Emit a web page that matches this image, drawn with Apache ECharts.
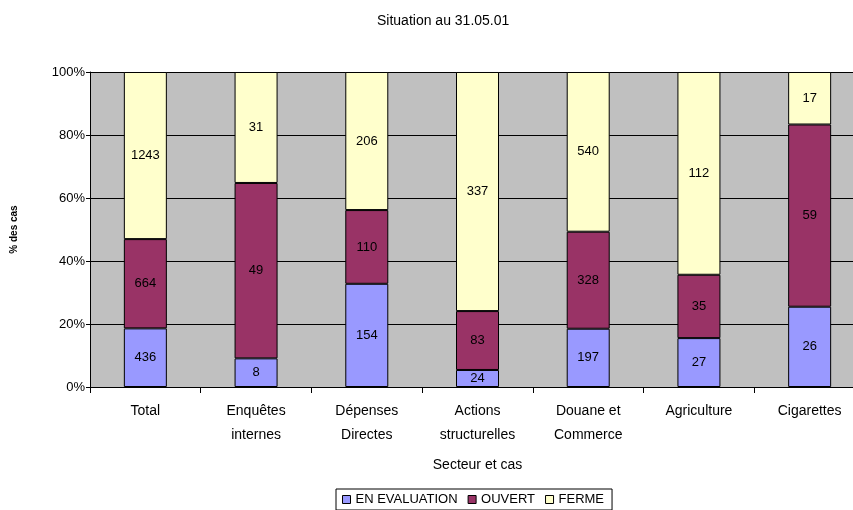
<!DOCTYPE html>
<html>
<head>
<meta charset="utf-8">
<script src="https://cdn.jsdelivr.net/npm/echarts@6/dist/echarts.min.js"></script>
<style>
  html, body { margin: 0; padding: 0; background: #fff; }
  #chart { width: 853px; height: 510px; }
</style>
</head>
<body>
<div id="chart"></div>
<script>
// Sectors (two-line labels) and case counts per status
var categories = ['Total', 'Enquêtes\ninternes', 'Dépenses\nDirectes', 'Actions\nstructurelles', 'Douane et\nCommerce', 'Agriculture', 'Cigarettes'];
var enEvaluation = [436, 8, 154, 24, 197, 27, 26];
var ouvert = [664, 49, 110, 83, 328, 35, 59];
var ferme = [1243, 31, 206, 337, 540, 112, 17];
var yTicks = [0, 20, 40, 60, 80, 100];

var totals = categories.map(function (_, i) { return enEvaluation[i] + ouvert[i] + ferme[i]; });
function share(arr) {
  return arr.map(function (v, i) { return { value: v / totals[i] * 100, raw: v }; });
}

var font = 'Liberation Sans, Arial, sans-serif';
var segLabel = {
  show: true,
  position: 'inside',
  color: '#000',
  fontFamily: font,
  fontSize: 13,
  formatter: function (p) { return p.data.raw; }
};

function series(name, arr, color) {
  return {
    name: name,
    type: 'bar',
    stack: 'all',
    barWidth: 43,
    data: share(arr),
    itemStyle: { color: color, borderColor: '#000', borderWidth: 1 },
    label: segLabel
  };
}

var chart = echarts.init(document.getElementById('chart'));
chart.setOption({
  animation: false,
  title: {
    text: 'Situation au 31.05.01',
    left: 372,
    top: 9,
    textStyle: { fontFamily: font, fontSize: 14, fontWeight: 'normal', color: '#000' }
  },
  grid: {
    left: 90, top: 72, width: 775, height: 315,
    outerBoundsMode: 'none',
    show: true, backgroundColor: '#C0C0C0', borderWidth: 0
  },
  legend: {
    bottom: 0,
    left: 336,
    padding: [4, 8, 4, 6],
    borderColor: '#000',
    borderWidth: 1,
    icon: 'rect',
    itemWidth: 8,
    itemHeight: 8,
    itemGap: 10,
    textStyle: { fontFamily: font, fontSize: 13, color: '#000' },
    data: [
      { name: 'EN EVALUATION', itemStyle: { borderColor: '#000', borderWidth: 1 } },
      { name: 'OUVERT', itemStyle: { borderColor: '#000', borderWidth: 1 } },
      { name: 'FERME', itemStyle: { borderColor: '#000', borderWidth: 1 } }
    ]
  },
  xAxis: {
    type: 'category',
    data: categories,
    name: 'Secteur et cas',
    nameLocation: 'middle',
    nameGap: 71,
    nameTextStyle: { fontFamily: font, fontSize: 14, color: '#000' },
    axisLine: { lineStyle: { color: '#000', width: 1 } },
    axisTick: { show: true, length: 6, lineStyle: { color: '#000' } },
    axisLabel: {
      fontFamily: font, fontSize: 14, color: '#000',
      lineHeight: 24, margin: 12, interval: 0
    }
  },
  yAxis: {
    type: 'value',
    min: 0,
    max: 100,
    interval: 20,
    name: '% des cas',
    nameLocation: 'middle',
    nameRotate: 90,
    nameGap: 71,
    nameTextStyle: { fontFamily: font, fontSize: 10, fontWeight: 'bold', color: '#000' },
    axisLine: { show: true, lineStyle: { color: '#000', width: 1 } },
    axisTick: { show: true, length: 4, lineStyle: { color: '#000' } },
    axisLabel: {
      fontFamily: font, fontSize: 13, color: '#000', margin: 5,
      formatter: function (v) { return yTicks.indexOf(v) >= 0 ? v + '%' : ''; }
    },
    splitLine: { show: true, lineStyle: { color: '#000', width: 1 } }
  },
  series: [
    series('EN EVALUATION', enEvaluation, '#9999FF'),
    series('OUVERT', ouvert, '#993366'),
    series('FERME', ferme, '#FFFFCC')
  ]
});
</script>
</body>
</html>
